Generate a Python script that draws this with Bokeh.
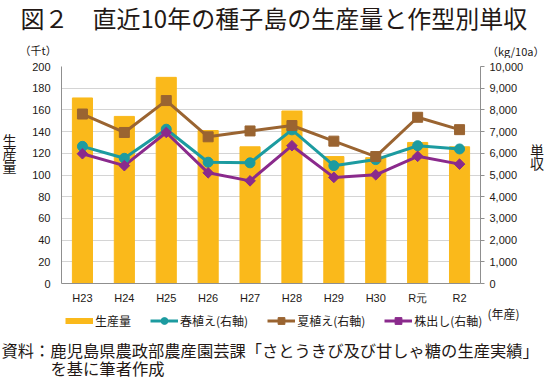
import numpy as np
from bokeh.plotting import figure
from bokeh.layouts import column, row
from bokeh.models import (Range1d, LinearAxis, FixedTicker, NumeralTickFormatter,
                          Legend, LegendItem, ColumnDataSource)
from bokeh.core.properties import value
from bokeh.embed import file_html
from bokeh.resources import INLINE

# ---------------- data ----------------
years = ["H23", "H24", "H25", "H26", "H27", "H28", "H29", "H30", "R元", "R2"]
production = [171, 154, 190, 141, 126, 159, 117, 116, 130, 126]          # 千t (left axis)
spring = [6320, 5770, 7110, 5590, 5560, 7080, 5430, 5710, 6350, 6200]    # 春植え kg/10a
summer = [7810, 6960, 8430, 6760, 7030, 7280, 6560, 5850, 7660, 7090]    # 夏植え kg/10a
kabu = [5980, 5430, 6960, 5100, 4730, 6350, 4890, 5010, 5860, 5500]      # 株出し kg/10a
left_ticks = list(range(0, 201, 20))
right_ticks = list(range(0, 10001, 1000))

TITLE = "図２　直近10年の種子島の生産量と作型別単収"
SOURCE1 = "資料：鹿児島県農政部農産園芸課「さとうきび及び甘しゃ糖の生産実績」"
SOURCE2 = "を基に筆者作成"

FONT = "Noto Sans CJK JP"
NUMFONT = "Liberation Sans"
TXT = "#231815"
YELLOW = "#FAB91B"
TEAL = "#1C9BA0"
BROWN = "#9A6431"
PURPLE = "#8A2A8C"
GRID = "#D4D4D4"
AXIS = "#8F8F8F"

W = 545
T_H, M_H, B_H = 58, 248, 77
L_W, R_W = 20, 19
M_W = W - L_W - R_W


def text_fig(w, h):
    f = figure(width=w, height=h, output_backend="svg", toolbar_location=None,
               x_range=Range1d(0, w), y_range=Range1d(h, 0), title=None,
               x_axis_type=None, y_axis_type=None, min_border=0)
    f.outline_line_color = None
    f.grid.visible = False
    return f


def put(f, x, y, text, size, align="left", font=FONT):
    f.text(x=[x], y=[y], text=[text], text_font=value(font), text_font_size=value(size),
           text_align=align, text_baseline="middle", text_color=TXT)


# ---------------- top texts ----------------
top = text_fig(W, T_H)
put(top, 20, 16.5, TITLE, "24px")
put(top, 19, 49, "（千t）", "11px")
put(top, 544, 50, "（kg/10a）", "11px", align="right")

# ---------------- side texts ----------------
left = text_fig(L_W, M_H)
for ch, y in zip("生産量", [83.5, 98.5, 113.5]):
    put(left, 9, y, ch, "14px", align="center")
right = text_fig(R_W, M_H)
for ch, y in zip("単収", [95.5, 110.5]):
    put(right, 10.5, y, ch, "14px", align="center")

# ---------------- main chart ----------------
xs = [i + 0.5 for i in range(len(years))]
src = ColumnDataSource(dict(x=xs, prod=production, spring=spring, summer=summer, kabu=kabu))

p = figure(width=M_W, height=M_H, output_backend="svg", toolbar_location=None, title=None,
           x_range=Range1d(0, len(years)), y_range=Range1d(0, 200),
           min_border_left=41, min_border_right=44, min_border_top=8, min_border_bottom=21)
p.outline_line_color = None
p.extra_y_ranges = {"right": Range1d(0, 10000)}

p.xaxis.ticker = FixedTicker(ticks=xs)
p.xaxis.major_label_overrides = {x: y for x, y in zip(xs, years)}
p.xaxis.major_tick_line_color = None
p.xaxis.major_tick_out = 0
p.xaxis.minor_tick_line_color = None
p.xaxis.axis_line_color = AXIS
p.xaxis.major_label_standoff = 8
p.xaxis.major_label_text_font = NUMFONT
p.xaxis.major_label_text_font_size = "11px"
p.xaxis.major_label_text_color = TXT

p.yaxis.ticker = FixedTicker(ticks=left_ticks)
p.yaxis.major_tick_line_color = None
p.yaxis.major_tick_out = 0
p.yaxis.minor_tick_line_color = None
p.yaxis.axis_line_color = AXIS
p.yaxis.major_label_standoff = 11
p.yaxis.major_label_text_font = NUMFONT
p.yaxis.major_label_text_font_size = "11px"
p.yaxis.major_label_text_color = TXT

ra = LinearAxis(y_range_name="right", ticker=FixedTicker(ticks=right_ticks),
                formatter=NumeralTickFormatter(format="0,0"))
ra.axis_line_color = AXIS
ra.major_tick_line_color = AXIS
ra.major_tick_out = 4
ra.major_tick_in = 0
ra.minor_tick_line_color = None
ra.major_label_standoff = 5
ra.major_label_text_font = NUMFONT
ra.major_label_text_font_size = "11px"
ra.major_label_text_color = TXT
p.add_layout(ra, "right")

p.xgrid.grid_line_color = None
p.ygrid.ticker = FixedTicker(ticks=left_ticks)
p.ygrid.grid_line_color = GRID

p.vbar(x="x", top="prod", width=0.48, source=src, color=YELLOW)

p.line("x", "spring", source=src, y_range_name="right", line_color=TEAL, line_width=3)
p.line("x", "summer", source=src, y_range_name="right", line_color=BROWN, line_width=3)
p.line("x", "kabu", source=src, y_range_name="right", line_color=PURPLE, line_width=3)
p.scatter("x", "spring", source=src, y_range_name="right", marker="circle", size=10,
          fill_color=TEAL, line_color=TEAL)
p.scatter("x", "summer", source=src, y_range_name="right", marker="square", size=10,
          fill_color=BROWN, line_color=BROWN)
p.scatter("x", "kabu", source=src, y_range_name="right", marker="square", size=7.5,
          angle=np.pi / 4, fill_color=PURPLE, line_color=PURPLE)

# ---------------- bottom: unit, legend, source ----------------
bot = text_fig(W, B_H)
put(bot, 487, 7, "(年産)", "12px")
put(bot, 1, 43, SOURCE1, "16.3px")
put(bot, 50, 61, SOURCE2, "16.3px")

off = dict(x=[-100], y=[-100])
d_prod = bot.line(off["x"], off["y"], line_color=YELLOW, line_width=6)
d_sp_l = bot.line(off["x"], off["y"], line_color=TEAL, line_width=3)
d_sp_m = bot.scatter(off["x"], off["y"], marker="circle", fill_color=TEAL, line_color=TEAL)
d_su_l = bot.line(off["x"], off["y"], line_color=BROWN, line_width=3)
d_su_m = bot.scatter(off["x"], off["y"], marker="square", fill_color=BROWN, line_color=BROWN)
d_kb_l = bot.line(off["x"], off["y"], line_color=PURPLE, line_width=3)
d_kb_m = bot.scatter(off["x"], off["y"], marker="square", angle=np.pi / 4,
                     fill_color=PURPLE, line_color=PURPLE)
legend = Legend(items=[
    LegendItem(label="生産量", renderers=[d_prod]),
    LegendItem(label="春植え(右軸)", renderers=[d_sp_l, d_sp_m]),
    LegendItem(label="夏植え(右軸)", renderers=[d_su_l, d_su_m]),
    LegendItem(label="株出し(右軸)", renderers=[d_kb_l, d_kb_m]),
], orientation="horizontal", location=(65, B_H - 23))
legend.padding = 0
legend.margin = 0
legend.border_line_color = None
legend.background_fill_alpha = 0
legend.glyph_width = 28
legend.glyph_height = 17
legend.label_height = 17
legend.label_standoff = 2
legend.spacing = 19
legend.label_text_font = FONT
legend.label_text_font_size = "12px"
legend.label_text_color = TXT
legend.label_text_baseline = "middle"
bot.add_layout(legend, "center")

layout = column(top, row(left, p, right, spacing=0), bot, spacing=0)

open("out.html", "w").write(file_html(layout, INLINE))
